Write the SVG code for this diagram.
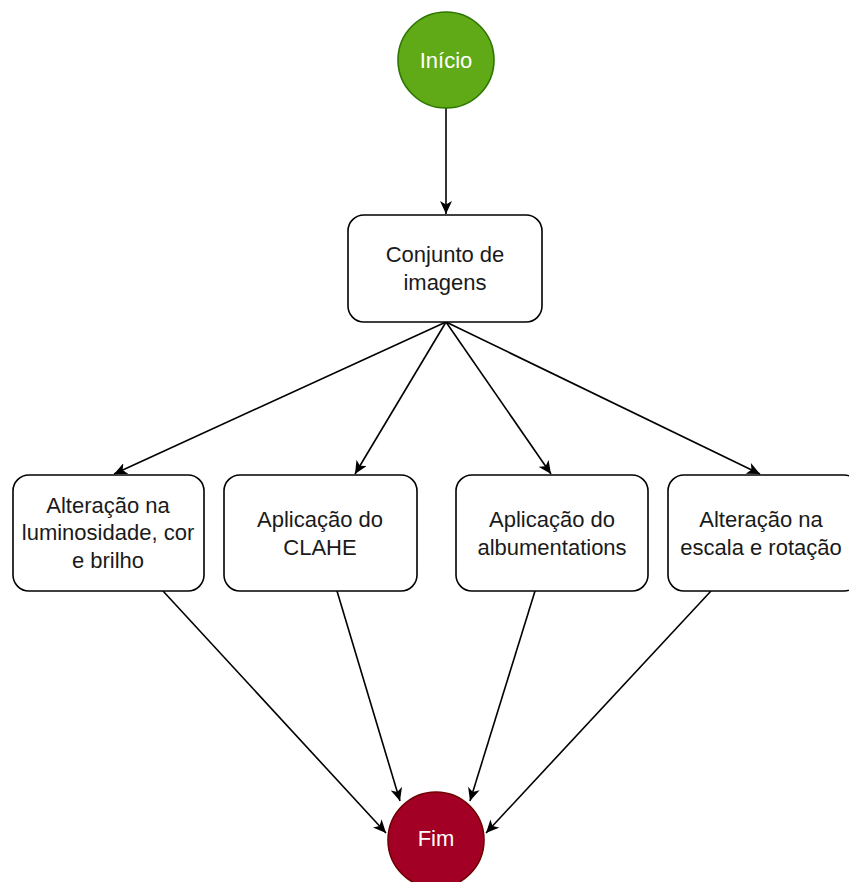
<svg xmlns="http://www.w3.org/2000/svg" width="849" height="882" viewBox="0 0 849 882">
  <defs>
    <style>
      .box { fill: #ffffff; stroke: #000000; stroke-width: 1.6; }
      .label { font-family: "Liberation Sans", Arial, sans-serif; font-size: 22px; fill: #1a1a1a; text-anchor: middle; }
      .light { fill: #ffffff; }
      .edge { fill: none; stroke: #000000; stroke-width: 1.6; marker-end: url(#arrow); }
    </style>
    <marker id="arrow" markerUnits="userSpaceOnUse" markerWidth="14" markerHeight="12" viewBox="0 0 14 12" refX="13" refY="6" orient="auto">
      <path d="M0,0 L13,6 L0,12 L3.5,6 Z" fill="#000000"/>
    </marker>
  </defs>
  <rect width="849" height="882" fill="#ffffff"/>

  <g id="connectors">
    <line class="edge" x1="446" y1="108" x2="446" y2="214"/>
    <line class="edge" x1="446" y1="322" x2="114" y2="474"/>
    <line class="edge" x1="446" y1="322" x2="355" y2="474"/>
    <line class="edge" x1="446" y1="322" x2="551" y2="474"/>
    <line class="edge" x1="446" y1="322" x2="760" y2="474"/>
    <line class="edge" x1="163" y1="591" x2="386" y2="833"/>
    <line class="edge" x1="337" y1="591" x2="400" y2="801"/>
    <line class="edge" x1="535" y1="591" x2="470" y2="801"/>
    <line class="edge" x1="711" y1="591" x2="486" y2="833"/>
  </g>

  <g id="inicio">
    <circle cx="446" cy="60" r="48" fill="#60a917" stroke="#2d7600" stroke-width="1.6"/>
    <text class="label light" x="446" y="68">Início</text>
  </g>

  <g id="conjunto">
    <rect class="box" x="348" y="215" width="194" height="107" rx="16"/>
    <text class="label" x="445" y="262">Conjunto de</text>
    <text class="label" x="445" y="290">imagens</text>
  </g>

  <g id="luminosidade">
    <rect class="box" x="13" y="475" width="191" height="116" rx="16"/>
    <text class="label" x="108" y="513">Alteração na</text>
    <text class="label" x="108" y="540">luminosidade, cor</text>
    <text class="label" x="108" y="568">e brilho</text>
  </g>

  <g id="clahe">
    <rect class="box" x="224" y="475" width="193" height="116" rx="16"/>
    <text class="label" x="320" y="527">Aplicação do</text>
    <text class="label" x="320" y="555">CLAHE</text>
  </g>

  <g id="albumentations">
    <rect class="box" x="456" y="475" width="192" height="116" rx="16"/>
    <text class="label" x="552" y="527">Aplicação do</text>
    <text class="label" x="552" y="555">albumentations</text>
  </g>

  <g id="escala">
    <rect class="box" x="668" y="475" width="192" height="116" rx="16"/>
    <text class="label" x="761" y="527">Alteração na</text>
    <text class="label" x="761" y="555">escala e rotação</text>
  </g>

  <g id="fim">
    <circle cx="436" cy="840" r="48" fill="#a20025" stroke="#6f0000" stroke-width="1.6"/>
    <text class="label light" x="436" y="846">Fim</text>
  </g>
</svg>
